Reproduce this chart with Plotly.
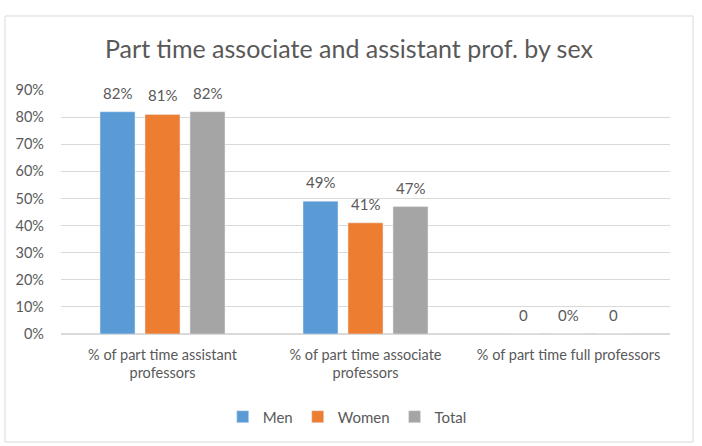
import plotly.graph_objects as go

categories = ["% of part time assistant<br>professors",
              "% of part time associate<br>professors",
              "% of part time full professors"]
men = [0.82, 0.49, 0.0]
women = [0.81, 0.41, 0.0]
total = [0.82, 0.47, 0.0]
men_labels = ["82%", "49%", "0"]
women_labels = ["81%", "41%", "0%"]
total_labels = ["82%", "47%", "0"]

FONT = "Lato"
GRAY = "#595959"
L, R, T, B = 61, 32, 90, 112
W, H = 702, 446
plot_w = W - L - R
cat_w = plot_w / len(categories)
BARGAP = 0.335
BARGROUPGAP = 0.222
slot = cat_w * (1 - BARGAP) / 3

series = [
    ("Men", men, men_labels, "#5B9BD5"),
    ("Women", women, women_labels, "#ED7D31"),
    ("Total", total, total_labels, "#A5A5A5"),
]

fig = go.Figure()
annotations = []
for i, (name, vals, labels, color) in enumerate(series):
    fig.add_trace(go.Bar(x=categories, y=vals, name=name, marker_color=color))
    for c, v, lab in zip(categories, vals, labels):
        annotations.append(dict(
            x=c, y=v, xref="x", yref="y", text=lab, showarrow=False,
            xshift=(i - 1) * slot, yshift=19, yanchor="middle",
            font=dict(family=FONT, size=15, color=GRAY)))

annotations.append(dict(
    text="Part time associate and assistant prof. by sex",
    xref="paper", yref="paper", x=(W / 2 - 2 - L) / plot_w, y=(H - B - 48) / (H - T - B),
    xanchor="center", yanchor="middle", showarrow=False,
    font=dict(family=FONT, size=25, color=GRAY)))

fig.update_layout(
    width=W, height=H,
    margin=dict(l=L, r=R, t=T, b=B),
    paper_bgcolor="white", plot_bgcolor="white",
    barmode="group", bargap=BARGAP, bargroupgap=BARGROUPGAP,
    font=dict(family=FONT, color=GRAY, size=14.5),
    legend=dict(orientation="h", x=0.47, xanchor="center", y=-0.34, yanchor="middle",
                font=dict(family=FONT, size=15, color=GRAY), traceorder="normal"),
    showlegend=True,
    annotations=annotations,
    yaxis=dict(range=[0, 0.9], dtick=0.1, tickformat=".0%", showgrid=True,
               gridcolor="#D9D9D9", zeroline=True, zerolinecolor="#D9D9D9",
               showline=False, ticks="", ticklabelstandoff=16,
               tickfont=dict(family=FONT, size=14.5, color=GRAY)),
    xaxis=dict(showline=False, ticks="", tickangle=0, ticklabelstandoff=10,
               tickfont=dict(family=FONT, size=14.5, color=GRAY)),
    shapes=[dict(type="rect", xref="paper", yref="paper",
                 x0=-0.092, x1=1.0378, y0=-0.4426, y1=1.3033,
                 line=dict(color="#D9D9D9", width=1), fillcolor="rgba(0,0,0,0)",
                 layer="below")],
)

fig.write_html("out.html")
